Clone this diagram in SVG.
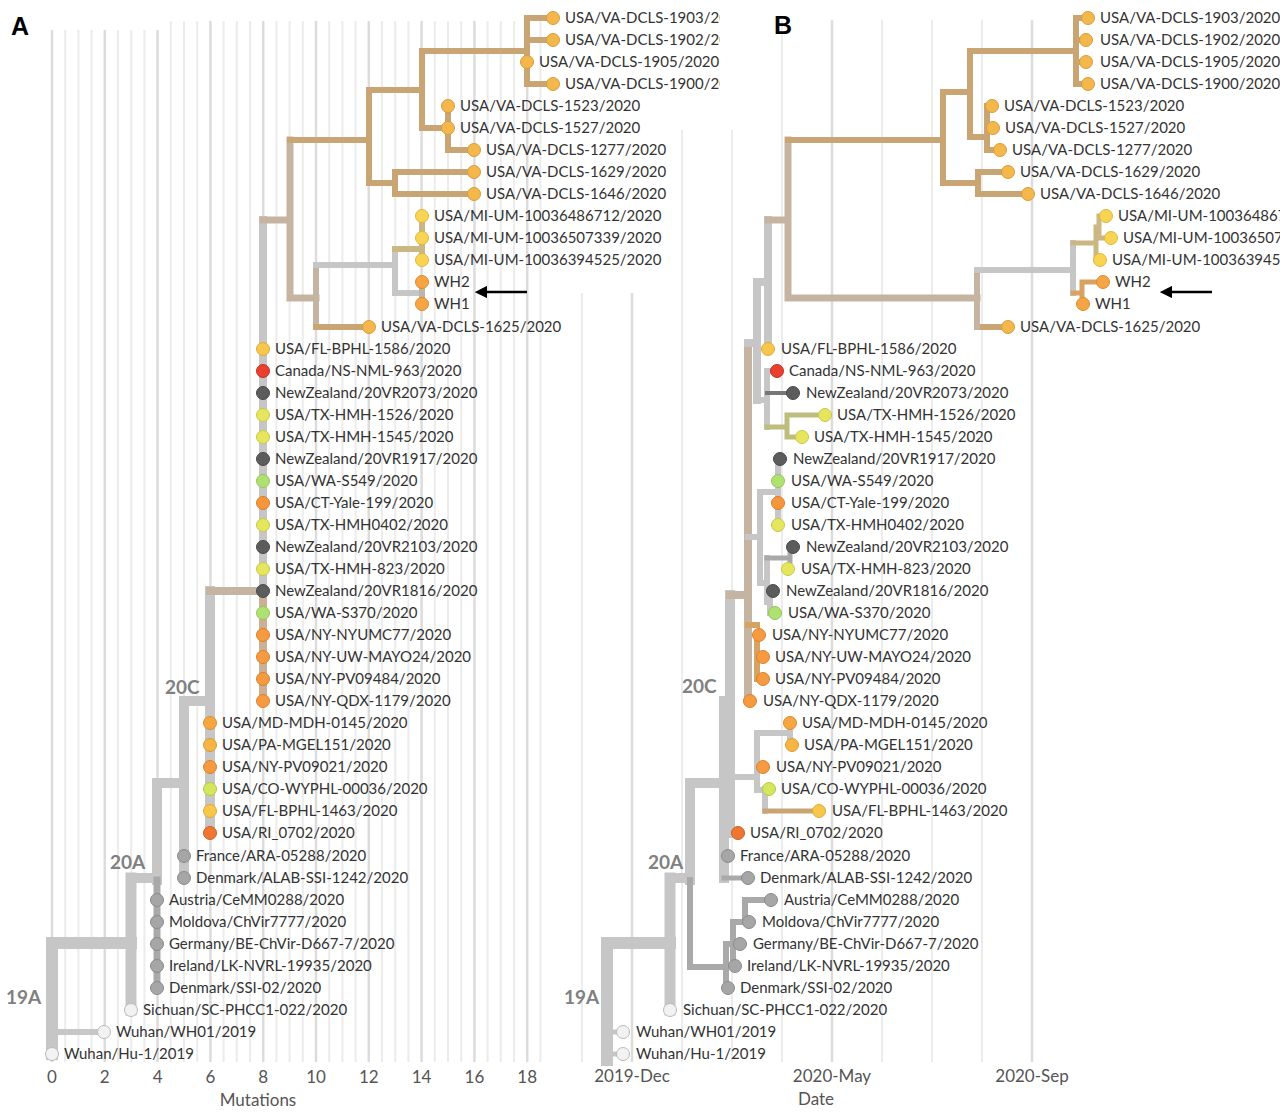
<svg xmlns="http://www.w3.org/2000/svg" width="1280" height="1112" viewBox="0 0 1280 1112">
<style>
.b{fill:none;stroke-linecap:square;stroke-linejoin:miter}
.gl{stroke:#c6c6c6}.gm{stroke:#a9a9a9}.gd{stroke:#777}.tn{stroke:#c9a573}.bg{stroke:#c5b4a1}.kh{stroke:#cbb783}.ot{stroke:#d6a363}.ol{stroke:#bdbd7e}.gt{stroke:#c0b4a8}.ob{stroke:#cbb096}
.w4{stroke-width:4}.w5{stroke-width:5}.w6{stroke-width:6}.w7{stroke-width:7}.w8{stroke-width:8}.w10{stroke-width:10}.w11{stroke-width:11}.w12{stroke-width:12}
.gmin{stroke:#ececec;stroke-width:2}.gmaj{stroke:#dcdcdc;stroke-width:2.5}
text{font-family:Lato,"Open Sans","Liberation Sans",sans-serif}
.lb{font-size:15px;fill:#333}
.ax{font-size:17px;fill:#555}
.cl{font-size:19px;fill:#808080;font-weight:bold}
.pl{font-family:"Liberation Sans",Arial,sans-serif;font-size:25px;font-weight:bold;fill:#000}
circle{r:6.5px;stroke-width:1}
.va{fill:#f4b74c;stroke:#d99c3a}.mi{fill:#f8d452;stroke:#e0b840}.wh{fill:#f5a544;stroke:#d98c34}.fl{fill:#f7c64c;stroke:#e0aa3a}.ca{fill:#e8402f;stroke:#c63024}.nz{fill:#5c5c5c;stroke:#4a4a4a}.tx{fill:#e5e65e;stroke:#c8c84a}.wa{fill:#aee072;stroke:#94c75c}.ct{fill:#f5963c;stroke:#d97e2e}.ny{fill:#f59a40;stroke:#d9822e}.md{fill:#f5a640;stroke:#d98e30}.pa{fill:#f5b646;stroke:#d99c36}.co{fill:#d4e65c;stroke:#b6c84a}.ri{fill:#ef7533;stroke:#d05e24}.eu{fill:#a6a6a6;stroke:#8a8a8a}.wu{fill:#f2f2f2;stroke:#bbbbbb}
</style>
<defs>
<clipPath id="clipA"><rect x="0" y="0" width="720" height="1112"/></clipPath>
<marker id="ah" viewBox="0 0 10 10" refX="1" refY="5" markerWidth="5" markerHeight="5" orient="auto-start-reverse"><path d="M0 0 L10 5 L0 10 Z" fill="#000"/></marker>
</defs>
<rect width="1280" height="1112" fill="#fff"/>
<g id="grid">
<g id="gridA">
<path class="gmaj" d="M52 30V1062M104.8 30V1062M157.6 30V1062M210.4 21V1062M263.2 21V1062M316 21V1062M368.8 21V1062M421.6 21V1062M474.4 21V1062M527.2 21V1062"/>
<path class="gmin" d="M65.2 30V1062M78.4 30V1062M91.6 30V1062M118 30V1062M131.2 30V1062M144.4 30V1062M170.8 21V1062M184 21V1062M197.2 21V1062M223.6 21V1062M236.8 21V1062M250 21V1062M276.4 21V1062M289.6 21V1062M302.8 21V1062M329.2 21V1062M342.4 21V1062M355.6 21V1062M382 21V1062M395.2 21V1062M408.4 21V1062M434.8 21V1062M448 21V1062M461.2 21V1062M487.6 21V1062M500.8 21V1062M514 21V1062M540.4 21V1062"/>
</g>
<g id="gridB">
<path class="gmin" d="M582 293V1062M682 130V1062M732 130V1062M782 20V1062M882 20V1062M932 20V1062M982 20V1062"/>
<path class="gmaj" d="M632 293V1062M832 20V1062M1032 20V1062"/>
</g>
</g>
<g id="connectors">
<g id="branchesA">
<path class="b gl w12" d="M52 943V1054M52 943H131"/>
<path class="b gl w6" d="M52 1032H104"/>
<path class="b gl w11" d="M131 878V1010"/>
<path class="b gl w10" d="M131 878H157M157 783V880M157 783H184M184 701V878M184 701H210M210 591V833"/>
<path class="b gm w7" d="M157 880V988"/>
<path class="b bg w8" d="M210 591H263"/>
<path class="b gl w8" d="M263 220V600"/>
<path class="b ob w8" d="M263 600V701"/>
<path class="b bg w7" d="M263 220H290M290 140V298M290 298H316"/>
<path class="b bg w6" d="M316 265V327"/>
<path class="b tn w6" d="M290 140H369M369 90V183M369 90H422M422 51V128M422 51H527M527 18V84M527 18H553M527 40H553M527 84H553M422 128H448M448 106V150M448 150H474M369 183H395M395 172V194M395 172H474M395 194H474M316 327H369"/>
<path class="b gl w6" d="M316 265H395M395 249V293M395 293H422"/>
<path class="b gt w6" d="M422 282V304"/>
<path class="b kh w6" d="M395 249H422M422 216V260"/>
</g>
<g id="branchesB">
<path class="b gl w12" d="M607 943V1060M607 943H670"/>
<path class="b gl w5" d="M607 1032H623M607 1054H623"/>
<path class="b gl w11" d="M670 878V1010"/>
<path class="b gl w10" d="M670 878H690M690 783V880M690 783H724M724 701V878M724 701H730M730 595V833"/>
<path class="b gm w6" d="M690 880V967M690 967H726M726 944V988M726 944H733M733 922V966M733 944H740M733 922H745M745 900V922M745 900H771M745 922H749M726 988H728M733 966H735"/>
<path class="b gm w5" d="M724 878H748"/>
<path class="b gl w6" d="M730 833H738M730 777H757M757 733V790M757 733H790M790 723V745M757 767H763M757 790H765M765 789V811"/>
<path class="b tn w5" d="M765 811H819"/>
<path class="b bg w8" d="M730 595H748M748 343V701"/>
<path class="b ot w6" d="M748 625H757M757 635V679M757 657H763M757 679H763"/>
<path class="b gl w6" d="M748 537H760M760 492V583M760 492H778M778 459V525M760 583H767M767 558V602M767 602H770M770 591V613"/>
<path class="b gm w5" d="M767 558H790M790 547V569"/>
<path class="b gl w8" d="M748 343H757M757 282V400M757 282H768M768 220V349"/>
<path class="b gl w6" d="M757 400H767M767 371V427M767 371H777"/>
<path class="b gd w4" d="M767 393H793"/>
<path class="b ol w5" d="M767 427H787M787 415V437M787 415H825M787 437H802"/>
<path class="b bg w7" d="M768 220H788M788 140V298M788 298H977"/>
<path class="b tn w6" d="M788 140H943M943 92V183M943 92H970M970 51V137M970 51H1076M1076 18V84M1076 18H1088M1076 40H1085M1076 62H1085M1076 84H1088M970 137H987M987 106V150M987 150H1000M943 183H978M978 172V194M978 172H1008M978 194H1028M977 327H1008"/>
<path class="b bg w6" d="M977 270V327"/>
<path class="b gl w6" d="M977 270H1073M1073 243V293"/>
<path class="b kh w5" d="M1073 243H1096M1096 227V260M1096 227H1099M1099 216V238M1099 216H1106M1099 238H1111M1096 260H1100"/>
<path class="b ot w5" d="M1073 293H1082M1082 282V304M1082 282H1103"/>
</g>
<g id="arrows">
<line x1="527" y1="292" x2="486" y2="292" stroke="#000" stroke-width="2.5" marker-end="url(#ah)"/>
<line x1="1212" y1="292" x2="1171" y2="292" stroke="#000" stroke-width="2.5" marker-end="url(#ah)"/>
</g>
</g>
<g id="nodesA" clip-path="url(#clipA)">
<g id="a1"><circle class="va" cx="553" cy="18"/><text class="lb" x="565" y="23">USA/VA-DCLS-1903/2020</text></g>
<g id="a2"><circle class="va" cx="553" cy="40"/><text class="lb" x="565" y="45">USA/VA-DCLS-1902/2020</text></g>
<g id="a3"><circle class="va" cx="527" cy="62"/><text class="lb" x="539" y="67">USA/VA-DCLS-1905/2020</text></g>
<g id="a4"><circle class="va" cx="553" cy="84"/><text class="lb" x="565" y="89">USA/VA-DCLS-1900/2020</text></g>
<g id="a5"><circle class="va" cx="448" cy="106"/><text class="lb" x="460" y="111">USA/VA-DCLS-1523/2020</text></g>
<g id="a6"><circle class="va" cx="448" cy="128"/><text class="lb" x="460" y="133">USA/VA-DCLS-1527/2020</text></g>
<g id="a7"><circle class="va" cx="474" cy="150"/><text class="lb" x="486" y="155">USA/VA-DCLS-1277/2020</text></g>
<g id="a8"><circle class="va" cx="474" cy="172"/><text class="lb" x="486" y="177">USA/VA-DCLS-1629/2020</text></g>
<g id="a9"><circle class="va" cx="474" cy="194"/><text class="lb" x="486" y="199">USA/VA-DCLS-1646/2020</text></g>
<g id="a10"><circle class="mi" cx="422" cy="216"/><text class="lb" x="434" y="221">USA/MI-UM-10036486712/2020</text></g>
<g id="a11"><circle class="mi" cx="422" cy="238"/><text class="lb" x="434" y="243">USA/MI-UM-10036507339/2020</text></g>
<g id="a12"><circle class="mi" cx="422" cy="260"/><text class="lb" x="434" y="265">USA/MI-UM-10036394525/2020</text></g>
<g id="a13"><circle class="wh" cx="422" cy="282"/><text class="lb" x="434" y="287">WH2</text></g>
<g id="a14"><circle class="wh" cx="422" cy="304"/><text class="lb" x="434" y="309">WH1</text></g>
<g id="a15"><circle class="va" cx="369" cy="327"/><text class="lb" x="381" y="332">USA/VA-DCLS-1625/2020</text></g>
<g id="a16"><circle class="fl" cx="263" cy="349"/><text class="lb" x="275" y="354">USA/FL-BPHL-1586/2020</text></g>
<g id="a17"><circle class="ca" cx="263" cy="371"/><text class="lb" x="275" y="376">Canada/NS-NML-963/2020</text></g>
<g id="a18"><circle class="nz" cx="263" cy="393"/><text class="lb" x="275" y="398">NewZealand/20VR2073/2020</text></g>
<g id="a19"><circle class="tx" cx="263" cy="415"/><text class="lb" x="275" y="420">USA/TX-HMH-1526/2020</text></g>
<g id="a20"><circle class="tx" cx="263" cy="437"/><text class="lb" x="275" y="442">USA/TX-HMH-1545/2020</text></g>
<g id="a21"><circle class="nz" cx="263" cy="459"/><text class="lb" x="275" y="464">NewZealand/20VR1917/2020</text></g>
<g id="a22"><circle class="wa" cx="263" cy="481"/><text class="lb" x="275" y="486">USA/WA-S549/2020</text></g>
<g id="a23"><circle class="ct" cx="263" cy="503"/><text class="lb" x="275" y="508">USA/CT-Yale-199/2020</text></g>
<g id="a24"><circle class="tx" cx="263" cy="525"/><text class="lb" x="275" y="530">USA/TX-HMH0402/2020</text></g>
<g id="a25"><circle class="nz" cx="263" cy="547"/><text class="lb" x="275" y="552">NewZealand/20VR2103/2020</text></g>
<g id="a26"><circle class="tx" cx="263" cy="569"/><text class="lb" x="275" y="574">USA/TX-HMH-823/2020</text></g>
<g id="a27"><circle class="nz" cx="263" cy="591"/><text class="lb" x="275" y="596">NewZealand/20VR1816/2020</text></g>
<g id="a28"><circle class="wa" cx="263" cy="613"/><text class="lb" x="275" y="618">USA/WA-S370/2020</text></g>
<g id="a29"><circle class="ny" cx="263" cy="635"/><text class="lb" x="275" y="640">USA/NY-NYUMC77/2020</text></g>
<g id="a30"><circle class="ny" cx="263" cy="657"/><text class="lb" x="275" y="662">USA/NY-UW-MAYO24/2020</text></g>
<g id="a31"><circle class="ny" cx="263" cy="679"/><text class="lb" x="275" y="684">USA/NY-PV09484/2020</text></g>
<g id="a32"><circle class="ny" cx="263" cy="701"/><text class="lb" x="275" y="706">USA/NY-QDX-1179/2020</text></g>
<g id="a33"><circle class="md" cx="210" cy="723"/><text class="lb" x="222" y="728">USA/MD-MDH-0145/2020</text></g>
<g id="a34"><circle class="pa" cx="210" cy="745"/><text class="lb" x="222" y="750">USA/PA-MGEL151/2020</text></g>
<g id="a35"><circle class="ny" cx="210" cy="767"/><text class="lb" x="222" y="772">USA/NY-PV09021/2020</text></g>
<g id="a36"><circle class="co" cx="210" cy="789"/><text class="lb" x="222" y="794">USA/CO-WYPHL-00036/2020</text></g>
<g id="a37"><circle class="fl" cx="210" cy="811"/><text class="lb" x="222" y="816">USA/FL-BPHL-1463/2020</text></g>
<g id="a38"><circle class="ri" cx="210" cy="833"/><text class="lb" x="222" y="838">USA/RI_0702/2020</text></g>
<g id="a39"><circle class="eu" cx="184" cy="856"/><text class="lb" x="196" y="861">France/ARA-05288/2020</text></g>
<g id="a40"><circle class="eu" cx="184" cy="878"/><text class="lb" x="196" y="883">Denmark/ALAB-SSI-1242/2020</text></g>
<g id="a41"><circle class="eu" cx="157" cy="900"/><text class="lb" x="169" y="905">Austria/CeMM0288/2020</text></g>
<g id="a42"><circle class="eu" cx="157" cy="922"/><text class="lb" x="169" y="927">Moldova/ChVir7777/2020</text></g>
<g id="a43"><circle class="eu" cx="157" cy="944"/><text class="lb" x="169" y="949">Germany/BE-ChVir-D667-7/2020</text></g>
<g id="a44"><circle class="eu" cx="157" cy="966"/><text class="lb" x="169" y="971">Ireland/LK-NVRL-19935/2020</text></g>
<g id="a45"><circle class="eu" cx="157" cy="988"/><text class="lb" x="169" y="993">Denmark/SSI-02/2020</text></g>
<g id="a46"><circle class="wu" cx="131" cy="1010"/><text class="lb" x="143" y="1015">Sichuan/SC-PHCC1-022/2020</text></g>
<g id="a47"><circle class="wu" cx="104" cy="1032"/><text class="lb" x="116" y="1037">Wuhan/WH01/2019</text></g>
<g id="a48"><circle class="wu" cx="52" cy="1054"/><text class="lb" x="64" y="1059">Wuhan/Hu-1/2019</text></g>
</g>
<g id="nodesB">
<g id="b1"><circle class="va" cx="1088" cy="18"/><text class="lb" x="1100" y="23">USA/VA-DCLS-1903/2020</text></g>
<g id="b2"><circle class="va" cx="1086" cy="40"/><text class="lb" x="1100" y="45">USA/VA-DCLS-1902/2020</text></g>
<g id="b3"><circle class="va" cx="1086" cy="62"/><text class="lb" x="1100" y="67">USA/VA-DCLS-1905/2020</text></g>
<g id="b4"><circle class="va" cx="1088" cy="84"/><text class="lb" x="1100" y="89">USA/VA-DCLS-1900/2020</text></g>
<g id="b5"><circle class="va" cx="992" cy="106"/><text class="lb" x="1004" y="111">USA/VA-DCLS-1523/2020</text></g>
<g id="b6"><circle class="va" cx="993" cy="128"/><text class="lb" x="1005" y="133">USA/VA-DCLS-1527/2020</text></g>
<g id="b7"><circle class="va" cx="1000" cy="150"/><text class="lb" x="1012" y="155">USA/VA-DCLS-1277/2020</text></g>
<g id="b8"><circle class="va" cx="1008" cy="172"/><text class="lb" x="1020" y="177">USA/VA-DCLS-1629/2020</text></g>
<g id="b9"><circle class="va" cx="1028" cy="194"/><text class="lb" x="1040" y="199">USA/VA-DCLS-1646/2020</text></g>
<g id="b10"><circle class="mi" cx="1106" cy="216"/><text class="lb" x="1118" y="221">USA/MI-UM-10036486712/2020</text></g>
<g id="b11"><circle class="mi" cx="1111" cy="238"/><text class="lb" x="1123" y="243">USA/MI-UM-10036507339/2020</text></g>
<g id="b12"><circle class="mi" cx="1100" cy="260"/><text class="lb" x="1112" y="265">USA/MI-UM-10036394525/2020</text></g>
<g id="b13"><circle class="wh" cx="1103" cy="282"/><text class="lb" x="1115" y="287">WH2</text></g>
<g id="b14"><circle class="wh" cx="1083" cy="304"/><text class="lb" x="1095" y="309">WH1</text></g>
<g id="b15"><circle class="va" cx="1008" cy="327"/><text class="lb" x="1020" y="332">USA/VA-DCLS-1625/2020</text></g>
<g id="b16"><circle class="fl" cx="768" cy="349"/><text class="lb" x="781" y="354">USA/FL-BPHL-1586/2020</text></g>
<g id="b17"><circle class="ca" cx="777" cy="371"/><text class="lb" x="789" y="376">Canada/NS-NML-963/2020</text></g>
<g id="b18"><circle class="nz" cx="793" cy="393"/><text class="lb" x="806" y="398">NewZealand/20VR2073/2020</text></g>
<g id="b19"><circle class="tx" cx="825" cy="415"/><text class="lb" x="837" y="420">USA/TX-HMH-1526/2020</text></g>
<g id="b20"><circle class="tx" cx="802" cy="437"/><text class="lb" x="814" y="442">USA/TX-HMH-1545/2020</text></g>
<g id="b21"><circle class="nz" cx="780" cy="459"/><text class="lb" x="793" y="464">NewZealand/20VR1917/2020</text></g>
<g id="b22"><circle class="wa" cx="778" cy="481"/><text class="lb" x="791" y="486">USA/WA-S549/2020</text></g>
<g id="b23"><circle class="ct" cx="778" cy="503"/><text class="lb" x="791" y="508">USA/CT-Yale-199/2020</text></g>
<g id="b24"><circle class="tx" cx="778" cy="525"/><text class="lb" x="791" y="530">USA/TX-HMH0402/2020</text></g>
<g id="b25"><circle class="nz" cx="793" cy="547"/><text class="lb" x="806" y="552">NewZealand/20VR2103/2020</text></g>
<g id="b26"><circle class="tx" cx="788" cy="569"/><text class="lb" x="801" y="574">USA/TX-HMH-823/2020</text></g>
<g id="b27"><circle class="nz" cx="773" cy="591"/><text class="lb" x="786" y="596">NewZealand/20VR1816/2020</text></g>
<g id="b28"><circle class="wa" cx="775" cy="613"/><text class="lb" x="788" y="618">USA/WA-S370/2020</text></g>
<g id="b29"><circle class="ny" cx="759" cy="635"/><text class="lb" x="772" y="640">USA/NY-NYUMC77/2020</text></g>
<g id="b30"><circle class="ny" cx="763" cy="657"/><text class="lb" x="775" y="662">USA/NY-UW-MAYO24/2020</text></g>
<g id="b31"><circle class="ny" cx="763" cy="679"/><text class="lb" x="775" y="684">USA/NY-PV09484/2020</text></g>
<g id="b32"><circle class="ny" cx="750" cy="701"/><text class="lb" x="763" y="706">USA/NY-QDX-1179/2020</text></g>
<g id="b33"><circle class="md" cx="790" cy="723"/><text class="lb" x="802" y="728">USA/MD-MDH-0145/2020</text></g>
<g id="b34"><circle class="pa" cx="792" cy="745"/><text class="lb" x="804" y="750">USA/PA-MGEL151/2020</text></g>
<g id="b35"><circle class="ny" cx="763" cy="767"/><text class="lb" x="776" y="772">USA/NY-PV09021/2020</text></g>
<g id="b36"><circle class="co" cx="769" cy="789"/><text class="lb" x="781" y="794">USA/CO-WYPHL-00036/2020</text></g>
<g id="b37"><circle class="fl" cx="819" cy="811"/><text class="lb" x="832" y="816">USA/FL-BPHL-1463/2020</text></g>
<g id="b38"><circle class="ri" cx="738" cy="833"/><text class="lb" x="750" y="838">USA/RI_0702/2020</text></g>
<g id="b39"><circle class="eu" cx="728" cy="856"/><text class="lb" x="740" y="861">France/ARA-05288/2020</text></g>
<g id="b40"><circle class="eu" cx="748" cy="878"/><text class="lb" x="760" y="883">Denmark/ALAB-SSI-1242/2020</text></g>
<g id="b41"><circle class="eu" cx="771" cy="900"/><text class="lb" x="784" y="905">Austria/CeMM0288/2020</text></g>
<g id="b42"><circle class="eu" cx="749" cy="922"/><text class="lb" x="762" y="927">Moldova/ChVir7777/2020</text></g>
<g id="b43"><circle class="eu" cx="740" cy="944"/><text class="lb" x="753" y="949">Germany/BE-ChVir-D667-7/2020</text></g>
<g id="b44"><circle class="eu" cx="735" cy="966"/><text class="lb" x="747" y="971">Ireland/LK-NVRL-19935/2020</text></g>
<g id="b45"><circle class="eu" cx="728" cy="988"/><text class="lb" x="740" y="993">Denmark/SSI-02/2020</text></g>
<g id="b46"><circle class="wu" cx="670" cy="1010"/><text class="lb" x="683" y="1015">Sichuan/SC-PHCC1-022/2020</text></g>
<g id="b47"><circle class="wu" cx="623" cy="1032"/><text class="lb" x="636" y="1037">Wuhan/WH01/2019</text></g>
<g id="b48"><circle class="wu" cx="623" cy="1054"/><text class="lb" x="636" y="1059">Wuhan/Hu-1/2019</text></g>
</g>
<g id="clades">
<text class="cl" x="6" y="1004">19A</text>
<text class="cl" x="110" y="869">20A</text>
<text class="cl" x="165" y="694">20C</text>
<text class="cl" x="564" y="1004">19A</text>
<text class="cl" x="648" y="869">20A</text>
<text class="cl" x="682" y="693">20C</text>
</g>
<g id="axes">
<g class="ax" text-anchor="middle">
<text x="52" y="1083">0</text><text x="104.8" y="1083">2</text><text x="157.6" y="1083">4</text><text x="210.4" y="1083">6</text><text x="263.2" y="1083">8</text><text x="316" y="1083">10</text><text x="368.8" y="1083">12</text><text x="421.6" y="1083">14</text><text x="474.4" y="1083">16</text><text x="527.2" y="1083">18</text>
<text x="258" y="1106">Mutations</text>
<text x="632" y="1082">2019-Dec</text><text x="832" y="1082">2020-May</text><text x="1032" y="1082">2020-Sep</text>
<text x="816" y="1105">Date</text>
</g>
</g>
<text class="pl" x="11" y="35">A</text>
<text class="pl" x="774" y="34">B</text>
</svg>
